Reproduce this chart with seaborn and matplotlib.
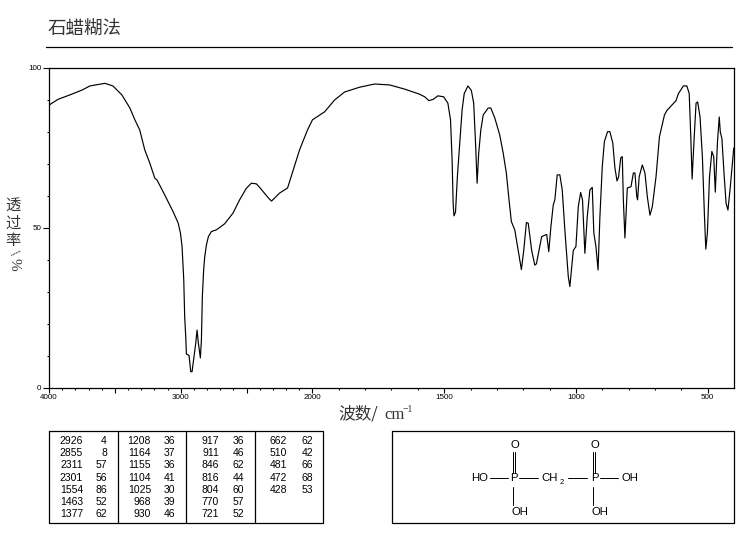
import numpy as np
import pandas as pd
import matplotlib
matplotlib.use("Agg")
import matplotlib.pyplot as plt
from matplotlib.ticker import FixedLocator, NullFormatter
import seaborn as sns

wavenumber = [4000,3932,3841,3750,3689,3576,3515,3447,3386,3348,3311,3273,3235,3197,3180,3121,3058,3020,3002,2990,2977,2970,2962,2957,2937,2924,2914,2899,2886,2876,2866,2856,2851,2843,2836,2826,2818,2805,2790,2767,2730,2667,2604,2553,2502,2464,2426,2401,2341,2311,2250,2189,2098,2038,2000,
1954,1916,1878,1821,1764,1707,1650,1593,1574,1558,1542,1524,1502,1486,1476,1470,1466,1463,1457,1450,1441,1432,1424,1410,1397,1388,1381,1375,1369,1361,1352,1333,1323,1308,1289,1276,1264,1254,1245,1232,1219,1207,1198,1188,1181,1168,1156,1150,1140,1130,1111,1103,1095,1086,1080,1071,1061,1052,1042,1029,1023,1010,1000,991,982,975,966,957,947,938,932,924,916,909,900,892,880,871,860,852,844,838,830,824,820,814,805,791,782,776,769,766,760,748,738,729,719,710,696,683,664,655,636,620,611,592,579,570,564,559,551,544,538,529,520,512,507,501,493,484,477,471,463,456,452,446,437,430,423,414,401]
transmittance = [88.4,90.2,91.6,93.1,94.4,95.2,94.4,91.6,87.5,83.8,80.6,74.4,70.3,65.6,65,60.3,55.1,51.6,48.4,44.2,33.8,22.3,16,10.6,10.2,5.1,5.1,9.8,14,18.1,14,10.9,9.4,15,28.5,36.9,41,44.7,47.3,48.9,49.4,51.3,54.6,58.8,62.4,64,63.8,62.7,59.7,58.4,60.9,62.5,74.4,80.6,83.8,
86.3,90,92.5,94,95,94.7,93.4,91.8,91,89.8,90.2,91.3,91,89,83.8,71.3,57.7,53.8,55,66,76.5,86.9,92,94.4,93,89,76.5,64,73.4,80.6,85.3,87.5,87.5,84.4,79,73.4,67.1,58.8,52,49.4,43,37,43,51.7,51.5,43,38.4,38.8,43,47.3,48,42.6,50.4,57.2,58.8,66.6,66.6,61.9,49.4,34.8,31.7,43,44.2,56.7,61.1,58.8,42.1,53.5,61.9,62.7,48.4,44.2,36.9,53.5,69.2,77,80.1,80.1,76.5,68.8,64.7,66,71.9,72.3,58.8,46.9,62.5,62.9,67.2,67.2,59.8,58.8,66,69.7,67.2,59.8,54,56.7,66,78.5,85.3,86.7,88.4,89.8,92,94.4,94.4,92,78.5,65.3,78.5,89,89.4,84.8,72.3,53.5,43.4,48.4,66,73.9,72.3,61.2,76.5,84.7,80,78,66,57.7,55.6,62.9,75]

x_major = [4000,3000,2000,1500,1000,500]
x_major_pos = [4000,3500,3000,2500,2000,1500,1000,500]
x_minor = [w for w in range(500,4000,100) if w not in x_major_pos]
y_major = [0,50,100]
y_minor = [10,20,30,40,60,70,80,90]

title = "石蜡糊法"
peak_wn = ["2926","2855","2311","2301","1554","1463","1377","1208","1164","1155","1104","1025","968","930","917","911","846","816","804","770","721","662","510","481","472","428"]
peak_t = ["4","8","57","56","86","52","62","36","37","36","41","30","39","46","36","46","62","44","60","57","52","62","42","66","68","53"]

sns.set_theme(style="white")
plt.rcParams['font.family'] = ['Noto Sans CJK SC','DejaVu Sans']

fig = plt.figure(figsize=(7.37,5.39), dpi=100, facecolor="white")
W,H = 737,539
ax = fig.add_axes([49.0/W,(H-388.0)/H,(734.0-49.0)/W,(388.0-68.0)/H])

def fwd(x):
    x = np.asarray(x,dtype=float)
    return np.where(x<=2000,x,2000+(x-2000)*0.5)
def inv(u):
    u = np.asarray(u,dtype=float)
    return np.where(u<=2000,u,2000+(u-2000)*2)
ax.set_xscale('function',functions=(fwd,inv))

df = pd.DataFrame({"wavenumber":wavenumber,"transmittance":transmittance})
sns.lineplot(data=df,x="wavenumber",y="transmittance",sort=False,estimator=None,color="black",lw=0.85,antialiased=True,ax=ax)
ax.set_xlim(4000,400); ax.set_ylim(0,100)
ax.set_xlabel(""); ax.set_ylabel("")
for s in ax.spines.values():
    s.set_color("black"); s.set_linewidth(0.9)
ax.xaxis.set_major_locator(FixedLocator(x_major_pos))
ax.set_xticklabels([str(v) if v in x_major else "" for v in x_major_pos],fontsize=5.8,family=['Liberation Sans'],color="black")
ax.xaxis.set_minor_locator(FixedLocator(x_minor))
ax.xaxis.set_minor_formatter(NullFormatter())
ax.yaxis.set_major_locator(FixedLocator(y_major))
ax.set_yticklabels([str(v) for v in y_major],fontsize=5.8,family=['Liberation Sans'],color="black")
ax.yaxis.set_minor_locator(FixedLocator(y_minor))
ax.tick_params(axis='x',which='major',bottom=True,length=3.5,width=0.8,pad=1,color="black")
ax.tick_params(axis='x',which='minor',bottom=True,length=1.5,width=0.8,color="black")
ax.tick_params(axis='y',which='major',left=True,length=4,width=0.8,pad=1.5,color="black")
ax.tick_params(axis='y',which='minor',left=True,length=1.5,width=0.8,color="black")

ov = fig.add_axes([0,0,1,1],zorder=5)
ov.set_xlim(0,W); ov.set_ylim(H,0); ov.axis('off'); ov.patch.set_alpha(0)
TXT = "#333333"
ov.text(48,30,title,fontsize=13.3,color=TXT,va='center',ha='left')
ov.plot([46,732],[47,47],color="black",lw=0.9)
ov.text(338,414,"波数/",fontsize=12,color=TXT,va='center',ha='left')
ov.text(384,415,"cm",fontsize=12,color=TXT,va='center',ha='left',family=['Liberation Serif'])
ov.text(403,410,"−1",fontsize=7,color=TXT,va='center',ha='left',family=['Liberation Serif'])
for y,ch in zip([205,223,241],"透过率"):
    ov.text(13,y,ch,fontsize=11,color=TXT,va='center',ha='center')
ov.text(14,254,"/",fontsize=11,color=TXT,rotation=-45,va='center',ha='center',family=['Liberation Serif'])
ov.text(14,264,"%",fontsize=11,color=TXT,rotation=-90,va='center',ha='center',family=['Liberation Serif'])

# peak table
ov.plot([49,323,323,49,49],[431,431,523,523,431],color="black",lw=0.9)
for xd in [118,186,255]:
    ov.plot([xd,xd],[431,523],color="black",lw=0.9)
col_wn = [83,151,219,287]
col_t = [107,175,244,313]
rows = [441,453,465,478,490,502,514]
for i,(a,b) in enumerate(zip(peak_wn,peak_t)):
    c,r = i//7,i%7
    ov.text(col_wn[c],rows[r],a,fontsize=7.5,family=['Liberation Sans'],ha='right',va='center',color="black")
    ov.text(col_t[c],rows[r],b,fontsize=7.5,family=['Liberation Sans'],ha='right',va='center',color="black")

# structure box
ov.plot([392,734,734,392,392],[431,431,523,523,431],color="black",lw=0.9)
seg = [([490,508],[478,478]),([519,538],[478,478]),([568,587],[478,478]),([600,618],[478,478]),
       ([513,513],[487,505]),([593,593],[487,505]),
       ([512.7,512.7],[452,473]),([515.5,515.5],[452,473]),([592.7,592.7],[452,473]),([595.5,595.5],[452,473])]
for xs,ys in seg:
    ov.plot(xs,ys,color="black",lw=0.7)
for (x,y,s) in [(480,478,"HO"),(514,478,"P"),(595,478,"P"),(515,445,"O"),(595,445,"O"),(630,478,"OH"),(520,512,"OH"),(600,512,"OH"),(550,478,"CH")]:
    ov.text(x,y,s,fontsize=8.2,family=['Liberation Sans'],ha='center',va='center',color="black")
ov.text(562,482,"2",fontsize=5.5,family=['Liberation Sans'],ha='center',va='center',color="black")

fig.savefig("out.png",dpi=100,facecolor="white")
